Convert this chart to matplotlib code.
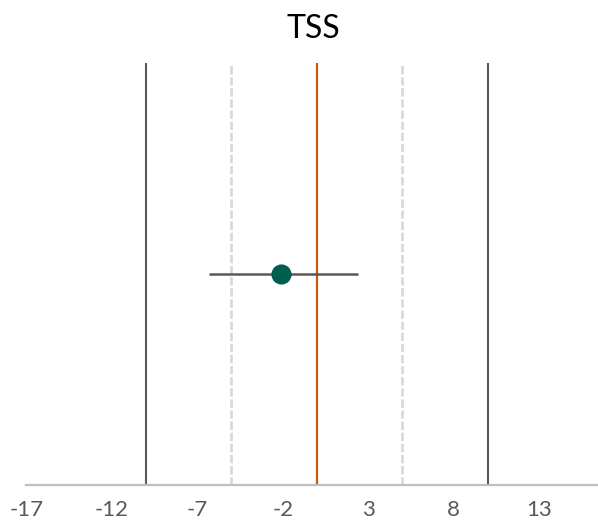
import matplotlib
matplotlib.use("Agg")
import matplotlib.pyplot as plt

# values
title = "TSS"
estimate = [-2.1]
ci_low = [-6.3]
ci_high = [2.4]
row = [0.5]
zero_line = 0
inner_limits = [-5, 5]
outer_limits = [-10, 10]
tick_values = [-17, -12, -7, -2, 3, 8, 13]

plt.rcParams['font.family'] = ['Lato', 'DejaVu Sans']

fig = plt.figure(figsize=(5.98, 5.25), dpi=100)
ax = fig.add_axes([0.0443, 0.0762, 0.9557, 0.8044])
ax.set_xlim(-17, 16.46)
ax.set_ylim(0, 1)

for v in outer_limits:
    ax.axvline(v, color="#595959", lw=1.5, zorder=2)
for v in inner_limits:
    ax.axvline(v, color="#d9d9d9", lw=2, dashes=(3, 1), zorder=1)
ax.axvline(zero_line, color="#c55a11", lw=1.6, zorder=2)

xerr = [[e - lo for e, lo in zip(estimate, ci_low)],
        [hi - e for e, hi in zip(estimate, ci_high)]]
ax.errorbar(estimate, row, xerr=xerr, fmt="o", color="#005e50",
            ecolor="#595959", elinewidth=1.8, capsize=0, markersize=13.5,
            zorder=3)

ax.set_xticks(tick_values)
ax.set_xticklabels([str(t) for t in tick_values])
ax.tick_params(axis="x", length=0, pad=11, labelsize=16, labelcolor="#595959")
ax.set_yticks([])
for s in ["left", "right", "top"]:
    ax.spines[s].set_visible(False)
ax.spines["bottom"].set_color("#bfbfbf")
ax.spines["bottom"].set_linewidth(1.6)

fig.text(313 / 598, 1 - 29 / 525, title, ha="center", va="center",
         fontsize=23, color="#000000")

fig.savefig("out.png", dpi=100)
